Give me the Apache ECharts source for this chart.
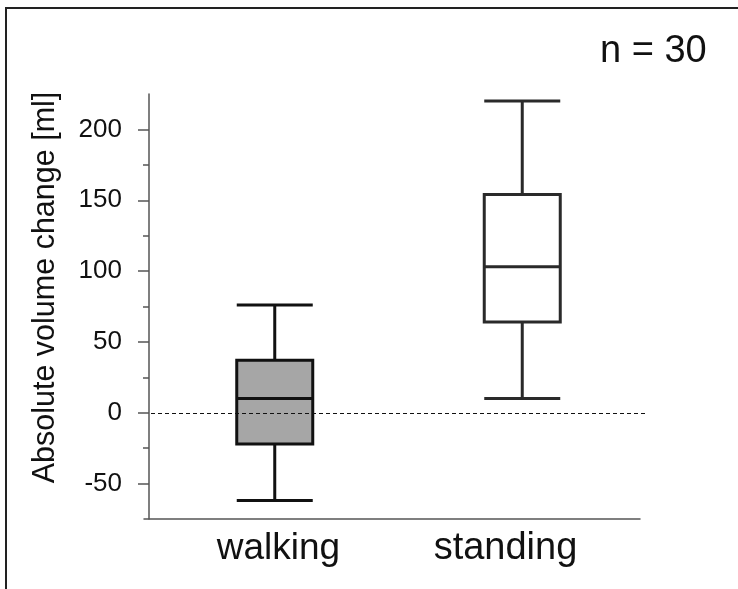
<!DOCTYPE html>
<html>
<head>
<meta charset="utf-8">
<script src="https://cdn.jsdelivr.net/npm/echarts@6/dist/echarts.min.js"></script>
<style>
  html, body { margin: 0; padding: 0; background: #fff; }
  #chart { width: 738px; height: 589px; }
</style>
</head>
<body>
<div id="chart"></div>
<script>
// Categories and five-number summaries [min, Q1, median, Q3, max]
const categories = ['walking', 'standing'];
const walkingBox = [-62, -22, 10, 37, 76];
const standingBox = [10, 64, 103, 154, 220];
const majorTicks = [-50, 0, 50, 100, 150, 200];
const minorTicks = [-25, 25, 75, 125, 175];
const yRange = [-75, 225];
const sampleNote = 'n = 30';
const yTitle = 'Absolute volume change [ml]';

const FONT = '"Liberation Sans", Arial, sans-serif';
const AXIS_COLOR = '#555';

const chart = echarts.init(document.getElementById('chart'), null, { renderer: 'canvas' });

chart.setOption({
  backgroundColor: '#fff',
  animation: false,
  title: {
    text: sampleNote,
    left: 595,
    top: 28,
    textStyle: { fontFamily: FONT, fontSize: 38, fontWeight: 'normal', color: '#111' }
  },
  graphic: [{
    type: 'rect',
    shape: { x: 6, y: 8, width: 900, height: 800 },
    style: { fill: null, stroke: '#222', lineWidth: 2 },
    silent: true
  }],
  grid: [
    { left: 151, width: 495, top: 94, height: 425 },
    { left: 144, width: 496, top: 94, height: 425 }
  ],
  xAxis: [
    {
      type: 'category', gridIndex: 0, data: categories,
      axisLine: { show: false }, axisTick: { show: false }, axisLabel: { show: false }
    },
    {
      type: 'category', gridIndex: 1, data: categories,
      axisLine: { onZero: false, lineStyle: { color: AXIS_COLOR, width: 1.5 } },
      axisTick: { show: false },
      axisLabel: {
        margin: 11,
        formatter: function (v) { return v === 'walking' ? '{w|' + v + '}' : '{s|' + v + '}'; },
        rich: {
          w: { fontFamily: FONT, fontSize: 37, color: '#111', padding: [0, 0, 0, 21] },
          s: { fontFamily: FONT, fontSize: 38, color: '#111', padding: [0, 21, 0, 0] }
        }
      }
    }
  ],
  yAxis: [
    {
      type: 'value', gridIndex: 0, min: yRange[0], max: yRange[1], offset: 2,
      name: yTitle, nameLocation: 'middle', nameGap: 88, nameRotate: 90,
      nameTextStyle: { fontFamily: FONT, fontSize: 30.5, color: '#111', padding: [0, 0, 0, 38] },
      axisLine: { show: true, lineStyle: { color: AXIS_COLOR, width: 1.5 } },
      axisTick: { show: true, customValues: majorTicks, length: 11, lineStyle: { color: AXIS_COLOR, width: 1.5 } },
      axisLabel: { customValues: majorTicks, margin: 27, fontFamily: FONT, fontSize: 26, color: '#111' },
      splitLine: { show: false }
    },
    {
      type: 'value', gridIndex: 1, min: yRange[0], max: yRange[1],
      axisLine: { show: false }, axisTick: { show: false }, axisLabel: { show: false }, splitLine: { show: false }
    },
    {
      type: 'value', gridIndex: 0, min: yRange[0], max: yRange[1], offset: 2, position: 'left',
      axisLine: { show: false },
      axisTick: { show: true, customValues: minorTicks, length: 6, lineStyle: { color: AXIS_COLOR, width: 1.5 } },
      axisLabel: { show: false },
      splitLine: { show: false }
    }
  ],
  series: [{
    type: 'boxplot',
    xAxisIndex: 0,
    yAxisIndex: 0,
    boxWidth: [76, 76],
    data: [
      { value: walkingBox, itemStyle: { color: '#a6a6a6', borderColor: '#111', borderWidth: 3 } },
      { value: standingBox, itemStyle: { color: '#fff', borderColor: '#2a2a2a', borderWidth: 3 } }
    ],
    markLine: {
      silent: true,
      symbol: 'none',
      label: { show: false },
      lineStyle: { color: '#111', type: [4, 3], width: 1.2 },
      data: [{ yAxis: 0 }]
    }
  }]
});
</script>
</body>
</html>
